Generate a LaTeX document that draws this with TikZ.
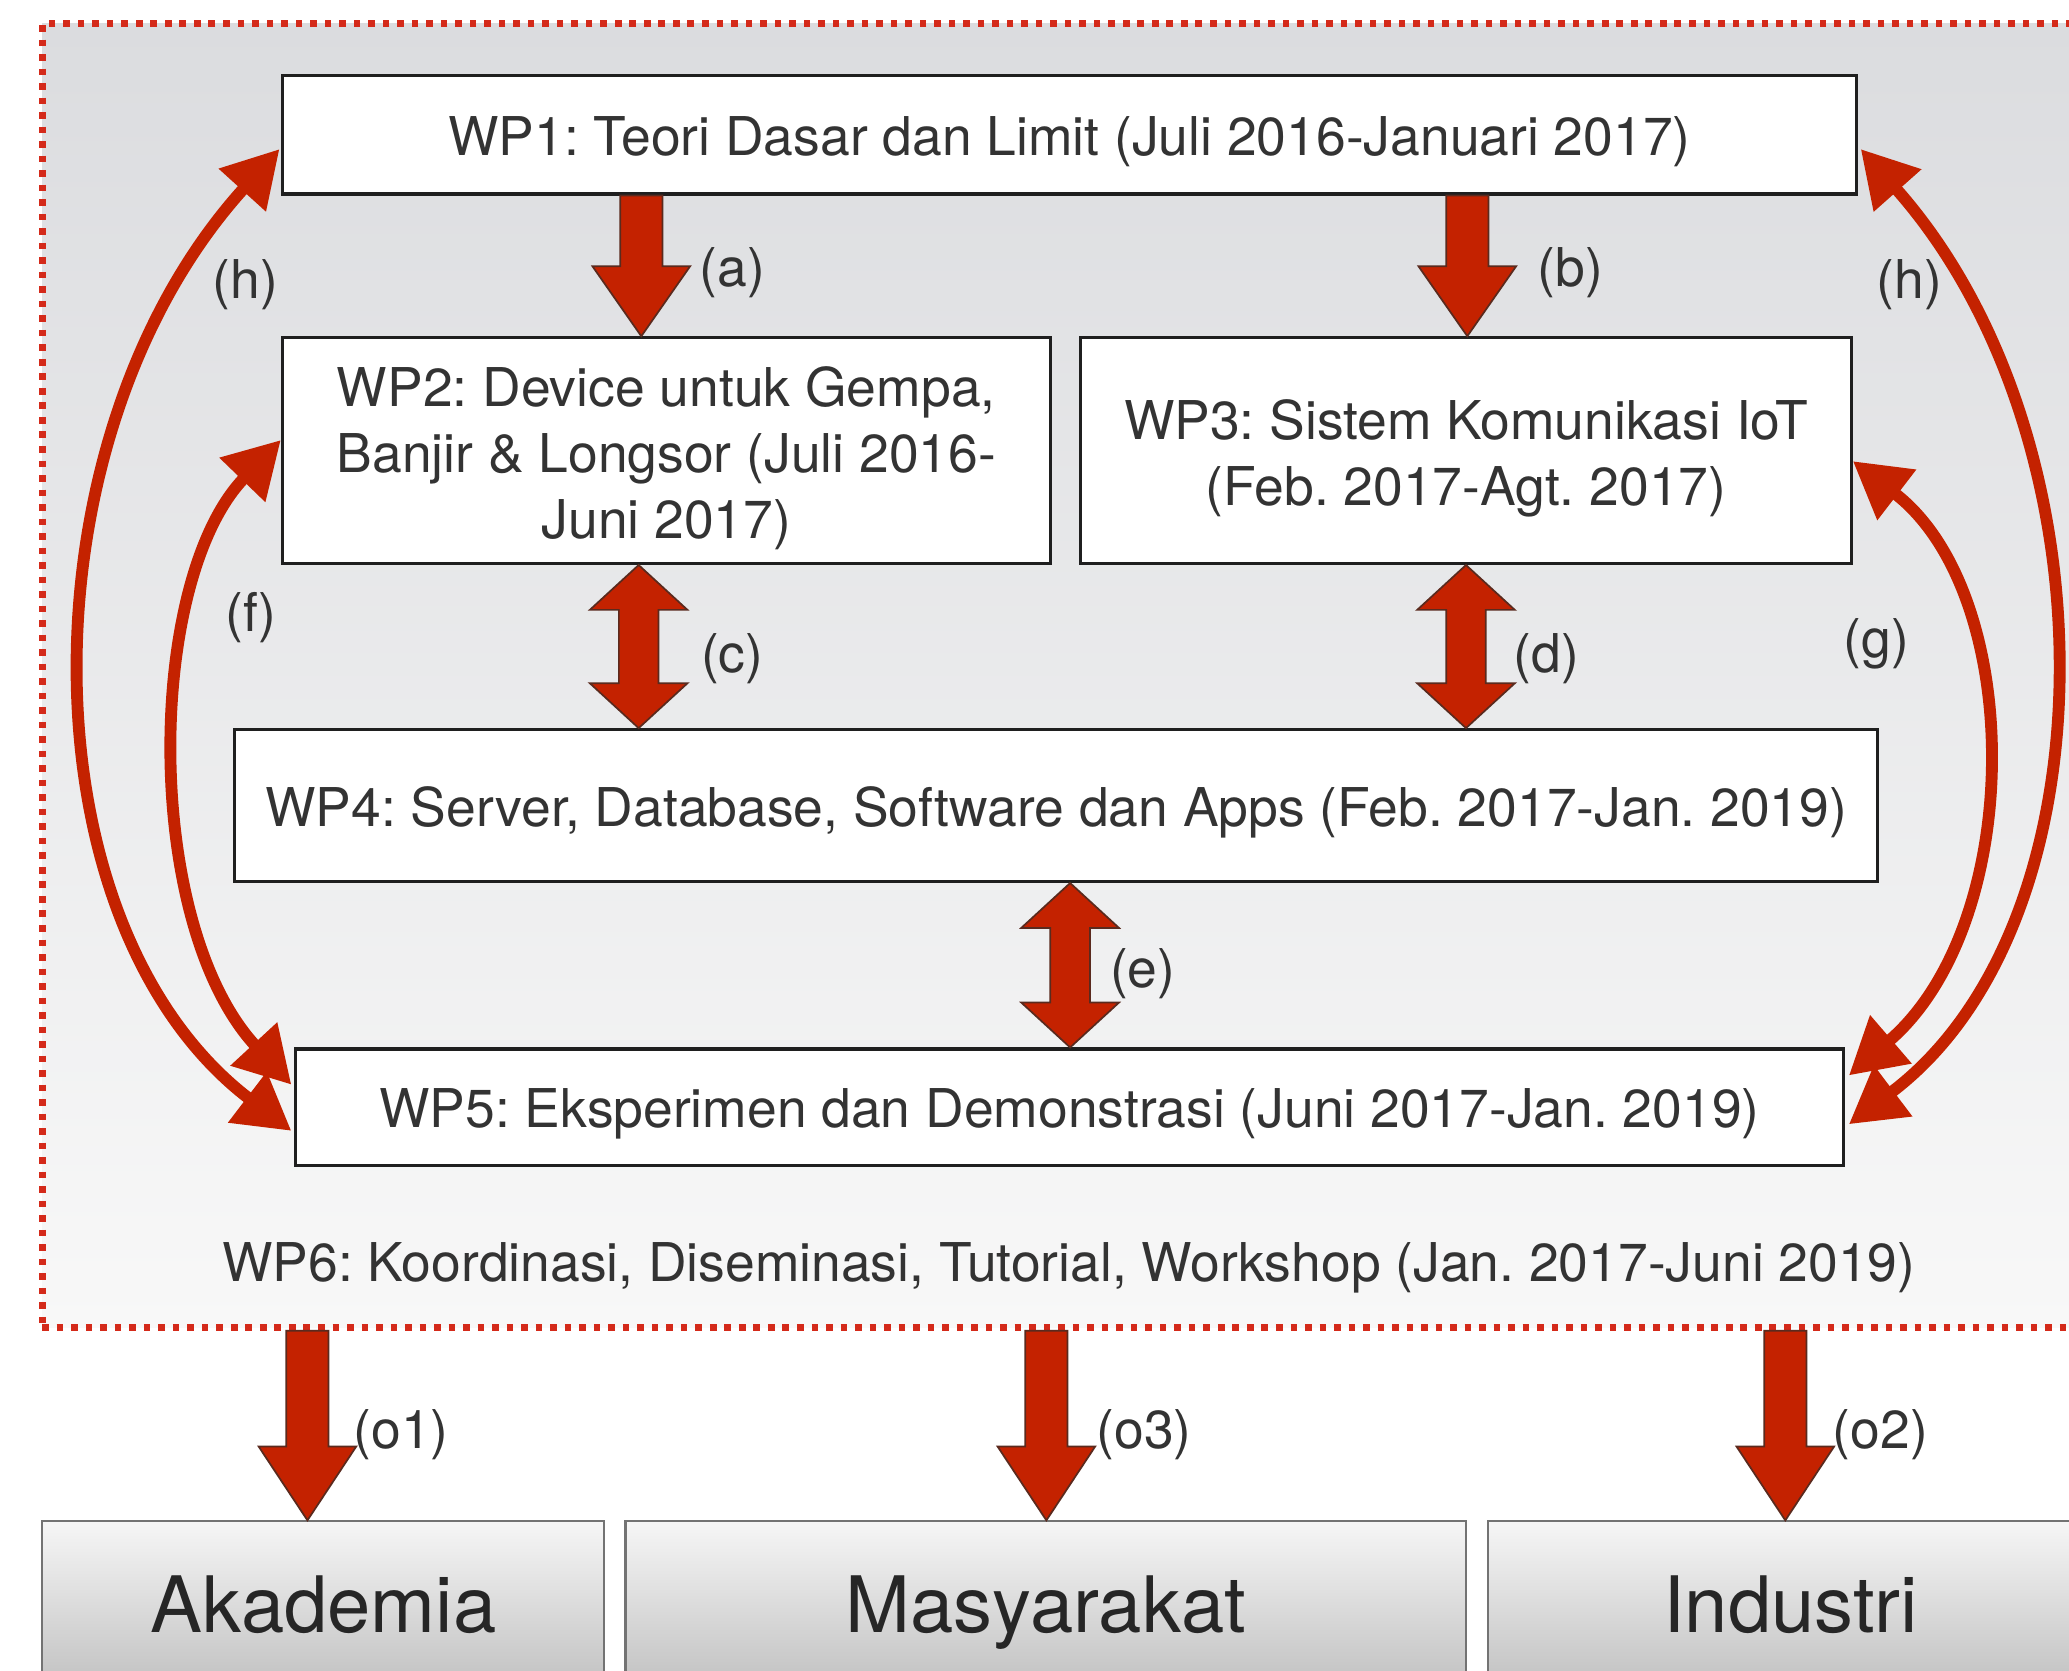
\documentclass[tikz,border=0pt]{standalone}
\usepackage{fontspec}
\setmainfont{TeX Gyre Heros}
\usetikzlibrary{arrows.meta,calc}
\definecolor{arrred}{HTML}{C42200}
\definecolor{arredge}{HTML}{5A2A1E}
\definecolor{txt}{HTML}{333333}
\definecolor{bgtop}{HTML}{DBDCDF}
\definecolor{bgbot}{HTML}{F8F8F8}
\definecolor{framered}{HTML}{D42A1A}
\definecolor{outtop}{HTML}{F6F6F6}
\definecolor{outbot}{HTML}{C2C2C2}
\newcommand\blkdown[4]{% x, top node, bottom node, head length
  \path[blockarrow] let \p1=(#2.south), \p2=(#3.north) in
  (#1pt-16pt,\y1) -- (#1pt+16pt,\y1) -- (#1pt+16pt,\y2+#4pt) -- (#1pt+37pt,\y2+#4pt)
  -- (#1pt,\y2) -- (#1pt-37pt,\y2+#4pt) -- (#1pt-16pt,\y2+#4pt) -- cycle;}
\newcommand\blkboth[4]{% x, top node, bottom node, head length
  \path[blockarrow] let \p1=(#2.south), \p2=(#3.north) in
  (#1pt,\y1) -- (#1pt+37pt,\y1-#4pt) -- (#1pt+15pt,\y1-#4pt) -- (#1pt+15pt,\y2+#4pt)
  -- (#1pt+37pt,\y2+#4pt) -- (#1pt,\y2) -- (#1pt-37pt,\y2+#4pt) -- (#1pt-15pt,\y2+#4pt)
  -- (#1pt-15pt,\y1-#4pt) -- (#1pt-37pt,\y1-#4pt) -- cycle;}
\begin{document}
\frenchspacing
\begin{tikzpicture}[x=1pt,y=-1pt,
  wpbox/.style={draw=black!88, line width=2.4pt, fill=white, inner sep=0pt},
  lbl/.style={font=\fontsize{40.5}{50}\selectfont, text=txt, inner sep=0pt, align=center},
  outbox/.style={draw=black!55, line width=1.6pt, top color=outtop, bottom color=outbot,
    inner sep=0pt, minimum height=124pt, text height=44pt, text depth=0pt,
    font=\fontsize{59}{70}\selectfont, text=black!85},
  blockarrow/.style={fill=arrred, draw=arredge, line width=1.3pt, line join=miter},
  curv/.style={draw=arrred, line width=9pt,
    {Triangle[length=42pt,width=46pt]}-{Triangle[length=42pt,width=46pt]}}]
\useasboundingbox (0,0) rectangle (1568,1266);
\clip (0,0) rectangle (1568,1266);
\fill[white] (0,0) rectangle (1568,1266);
% frame
\node[draw=framered, line width=5pt, dash pattern=on 5pt off 6pt,
  top color=bgtop, bottom color=bgbot, minimum width=1568pt, minimum height=988pt,
  inner sep=0pt] (frame) at (816,512) {};
% boxes
\node[wpbox, minimum width=1193pt, minimum height=90pt] (wp1) at (810.5,102) {};
\node[wpbox, minimum width=582pt, minimum height=171pt] (wp2) at (505,341.5) {};
\node[wpbox, minimum width=584pt, minimum height=171pt] (wp3) at (1111,341.5) {};
\node[wpbox, minimum width=1245pt, minimum height=115pt] (wp4) at (800.5,610.5) {};
\node[wpbox, minimum width=1173pt, minimum height=88pt] (wp5) at (810.5,839) {};
% box texts
\node[lbl] (wp1t) at ($(wp1.center)+(0,5)$)
  {WP1: Teori Dasar dan Limit (Juli 2016-Januari 2017)};
\node[lbl] (wp2t) at ($(wp2.center)+(0,6)$)
  {WP2: Device untuk Gempa,\\Banjir \& Longsor (Juli 2016-\\Juni 2017)};
\node[lbl] (wp3t) at ($(wp3.center)+(0,6)$)
  {WP3: Sistem Komunikasi IoT\\(Feb. 2017-Agt. 2017)};
\node[lbl] (wp4t) at ($(wp4.center)+(0,5)$)
  {WP4: Server, Database, Software dan Apps (Feb. 2017-Jan. 2019)};
\node[lbl] (wp5t) at ($(wp5.center)+(0,5)$)
  {WP5: Eksperimen dan Demonstrasi (Juni 2017-Jan. 2019)};
\node[lbl] (wp6) at (810,961)
  {WP6: Koordinasi, Diseminasi, Tutorial, Workshop (Jan. 2017-Juni 2019)};
% output boxes
\node[outbox, minimum width=426pt] (aka) at (245,1215) {Akademia};
\node[outbox, minimum width=637pt] (mas) at (792.5,1215) {Masyarakat};
\node[outbox, minimum width=458pt] (ind) at (1357,1215) {Industri};
% block arrows
\blkdown{486}{wp1}{wp2}{53}
\blkdown{1112}{wp1}{wp3}{53}
\blkboth{484}{wp2}{wp4}{34}
\blkboth{1111}{wp3}{wp4}{34}
\blkboth{811}{wp4}{wp5}{34}
\blkdown{233}{frame}{aka}{56}
\blkdown{793}{frame}{mas}{56}
\blkdown{1353}{frame}{ind}{56}
% curved arrows
\draw[curv] ($(wp1.west)+(-1,11)$) .. controls (15,330) and (15,700) .. ($(wp5.west)+(-2,18)$);
\draw[curv] ($(wp2.west)+(0,-8)$) .. controls (110,440) and (108,700) .. ($(wp5.west)+(-2,-17)$);
\draw[curv] ($(wp1.east)+(2,11)$) .. controls (1603,330) and (1603,700) .. ($(wp5.east)+(3,13)$);
\draw[curv] ($(wp3.east)+(0,8)$) .. controls (1535,450) and (1535,700) .. ($(wp5.east)+(3,-24)$);
% labels
\node[lbl] (la) at (555,207) {(a)};
\node[lbl] (lb) at (1190,207) {(b)};
\node[lbl] (lc) at (555,499) {(c)};
\node[lbl] (ld) at (1172,499) {(d)};
\node[lbl] (le) at (866,738) {(e)};
\node[lbl] (lh1) at (186,216) {(h)};
\node[lbl] (lh2) at (1447,216) {(h)};
\node[lbl] (lf) at (190,468) {(f)};
\node[lbl] (lg) at (1422,488) {(g)};
\node[lbl] (lo1) at (304,1087) {(o1)};
\node[lbl] (lo3) at (867,1087) {(o3)};
\node[lbl] (lo2) at (1425,1087) {(o2)};
\end{tikzpicture}
\end{document}
